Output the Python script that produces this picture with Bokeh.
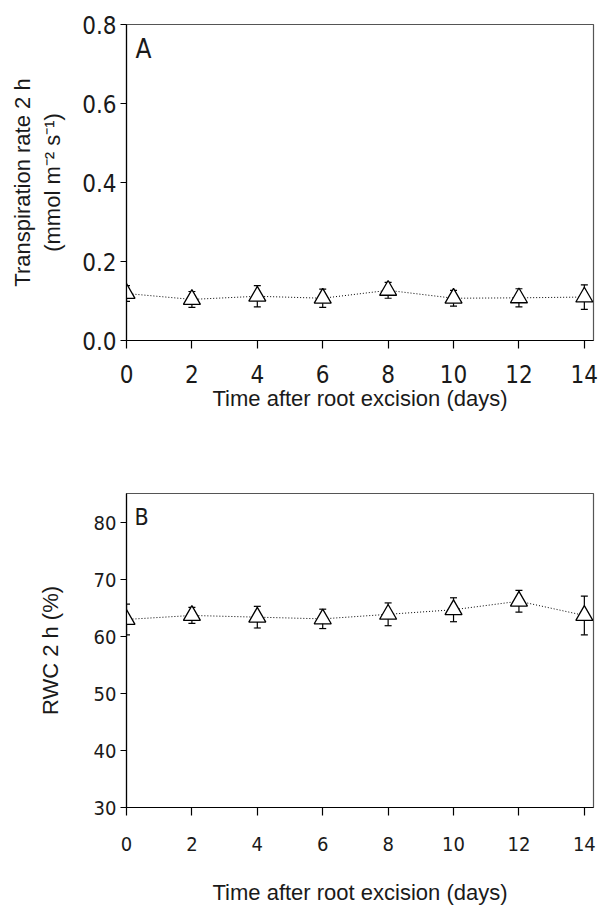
from bokeh.plotting import figure
from bokeh.models import ColumnDataSource, Whisker, TeeHead, FixedTicker, Range1d, Label
from bokeh.layouts import column
from bokeh.embed import file_html
from bokeh.resources import INLINE

# ---- data ----
days = [0, 2, 4, 6, 8, 10, 12, 14]
trans_mean = [0.119, 0.104, 0.112, 0.107, 0.127, 0.107, 0.108, 0.110]
trans_se = [0.020, 0.020, 0.027, 0.023, 0.020, 0.020, 0.023, 0.031]
rwc_mean = [63.0, 63.7, 63.4, 63.1, 63.9, 64.7, 66.2, 63.7]
rwc_se = [2.7, 1.4, 1.9, 1.7, 2.0, 2.1, 1.9, 3.4]
trans_ticks = [0.0, 0.2, 0.4, 0.6, 0.8]
trans_tick_labels = ["0.0", "0.2", "0.4", "0.6", "0.8"]
rwc_ticks = [30, 40, 50, 60, 70, 80]
x_title = "Time after root excision (days)"
trans_title = "Transpiration rate 2 h\n(mmol m\u207b\u00b2 s\u207b\u00b9)"
rwc_title = "RWC 2 h (%)"

TICK_FONT = "DejaVu Sans Condensed"
TITLE_FONT = "Liberation Sans"


def panel(mean, se, y_start, y_end, yticks, ylabels, ytitle, letter,
          height, top, bottom, tick_fs, letter_fs, letter_off,
          x_title_standoff, y_title_standoff, x_label_standoff):
    lower = [m - s for m, s in zip(mean, se)]
    upper = [m + s for m, s in zip(mean, se)]
    src = ColumnDataSource(dict(x=days, y=mean, lower=lower, upper=upper))
    p = figure(width=599, height=height, output_backend="svg", toolbar_location=None,
               x_range=Range1d(0, 14.28), y_range=Range1d(y_start, y_end),
               min_border_left=126, min_border_right=6,
               min_border_top=top, min_border_bottom=bottom)
    p.grid.visible = False
    p.outline_line_color = "#555555"
    p.outline_line_width = 1.2
    p.background_fill_color = "white"
    p.border_fill_color = "white"

    p.line("x", "y", source=src, line_color="black", line_width=1, line_dash="1 2")
    w = Whisker(base="x", lower="lower", upper="upper", source=src,
                line_color="black", line_width=1.2,
                upper_head=TeeHead(size=7, line_color="black", line_width=1.2),
                lower_head=TeeHead(size=7, line_color="black", line_width=1.2))
    p.add_layout(w)
    p.scatter("x", "y", source=src, marker="triangle", size=17,
              fill_color="white", line_color="black", line_width=1.3)

    for ax in (p.xaxis[0], p.yaxis[0]):
        ax.axis_line_color = "black"
        ax.axis_line_width = 1.2
        ax.major_tick_line_color = "black"
        ax.major_tick_line_width = 1.2
        ax.major_tick_in = 0
        ax.minor_tick_line_color = None
        ax.major_label_text_font = TICK_FONT
        ax.major_label_text_font_size = tick_fs
        ax.major_label_text_color = "#1a1a1a"
        ax.axis_label_text_font = TITLE_FONT
        ax.axis_label_text_font_size = "22px"
        ax.axis_label_text_font_style = "normal"
        ax.axis_label_text_color = "#1a1a1a"

    p.xaxis.ticker = FixedTicker(ticks=days)
    p.xaxis.major_tick_out = 8
    p.xaxis.major_label_standoff = x_label_standoff
    p.xaxis.axis_label = x_title
    p.xaxis.axis_label_standoff = x_title_standoff

    p.yaxis.ticker = FixedTicker(ticks=yticks)
    p.yaxis.major_label_overrides = {t: l for t, l in zip(yticks, ylabels)}
    p.yaxis.major_tick_out = 6
    p.yaxis.major_label_standoff = 4
    p.yaxis.axis_label = ytitle
    p.yaxis.axis_label_standoff = y_title_standoff

    p.add_layout(Label(x=0, y=y_end, x_offset=letter_off[0], y_offset=letter_off[1],
                       text=letter, text_font=TICK_FONT, text_font_size=letter_fs,
                       text_color="#1a1a1a", text_baseline="alphabetic"))
    return p


pA = panel(trans_mean, trans_se, 0, 0.8, trans_ticks, trans_tick_labels,
           trans_title, "A", 450, 24, 110, "24px", "26px", (9, -24),
           0, 14, 16)
pB = panel(rwc_mean, rwc_se, 30, 85.1, rwc_ticks, [str(t) for t in rwc_ticks],
           rwc_title, "B", 458, 43, 101, "20px", "23px", (8, -23),
           26, 28, 21)

layout = column(pA, pB, spacing=0)
open("out.html", "w").write(file_html(layout, INLINE))
